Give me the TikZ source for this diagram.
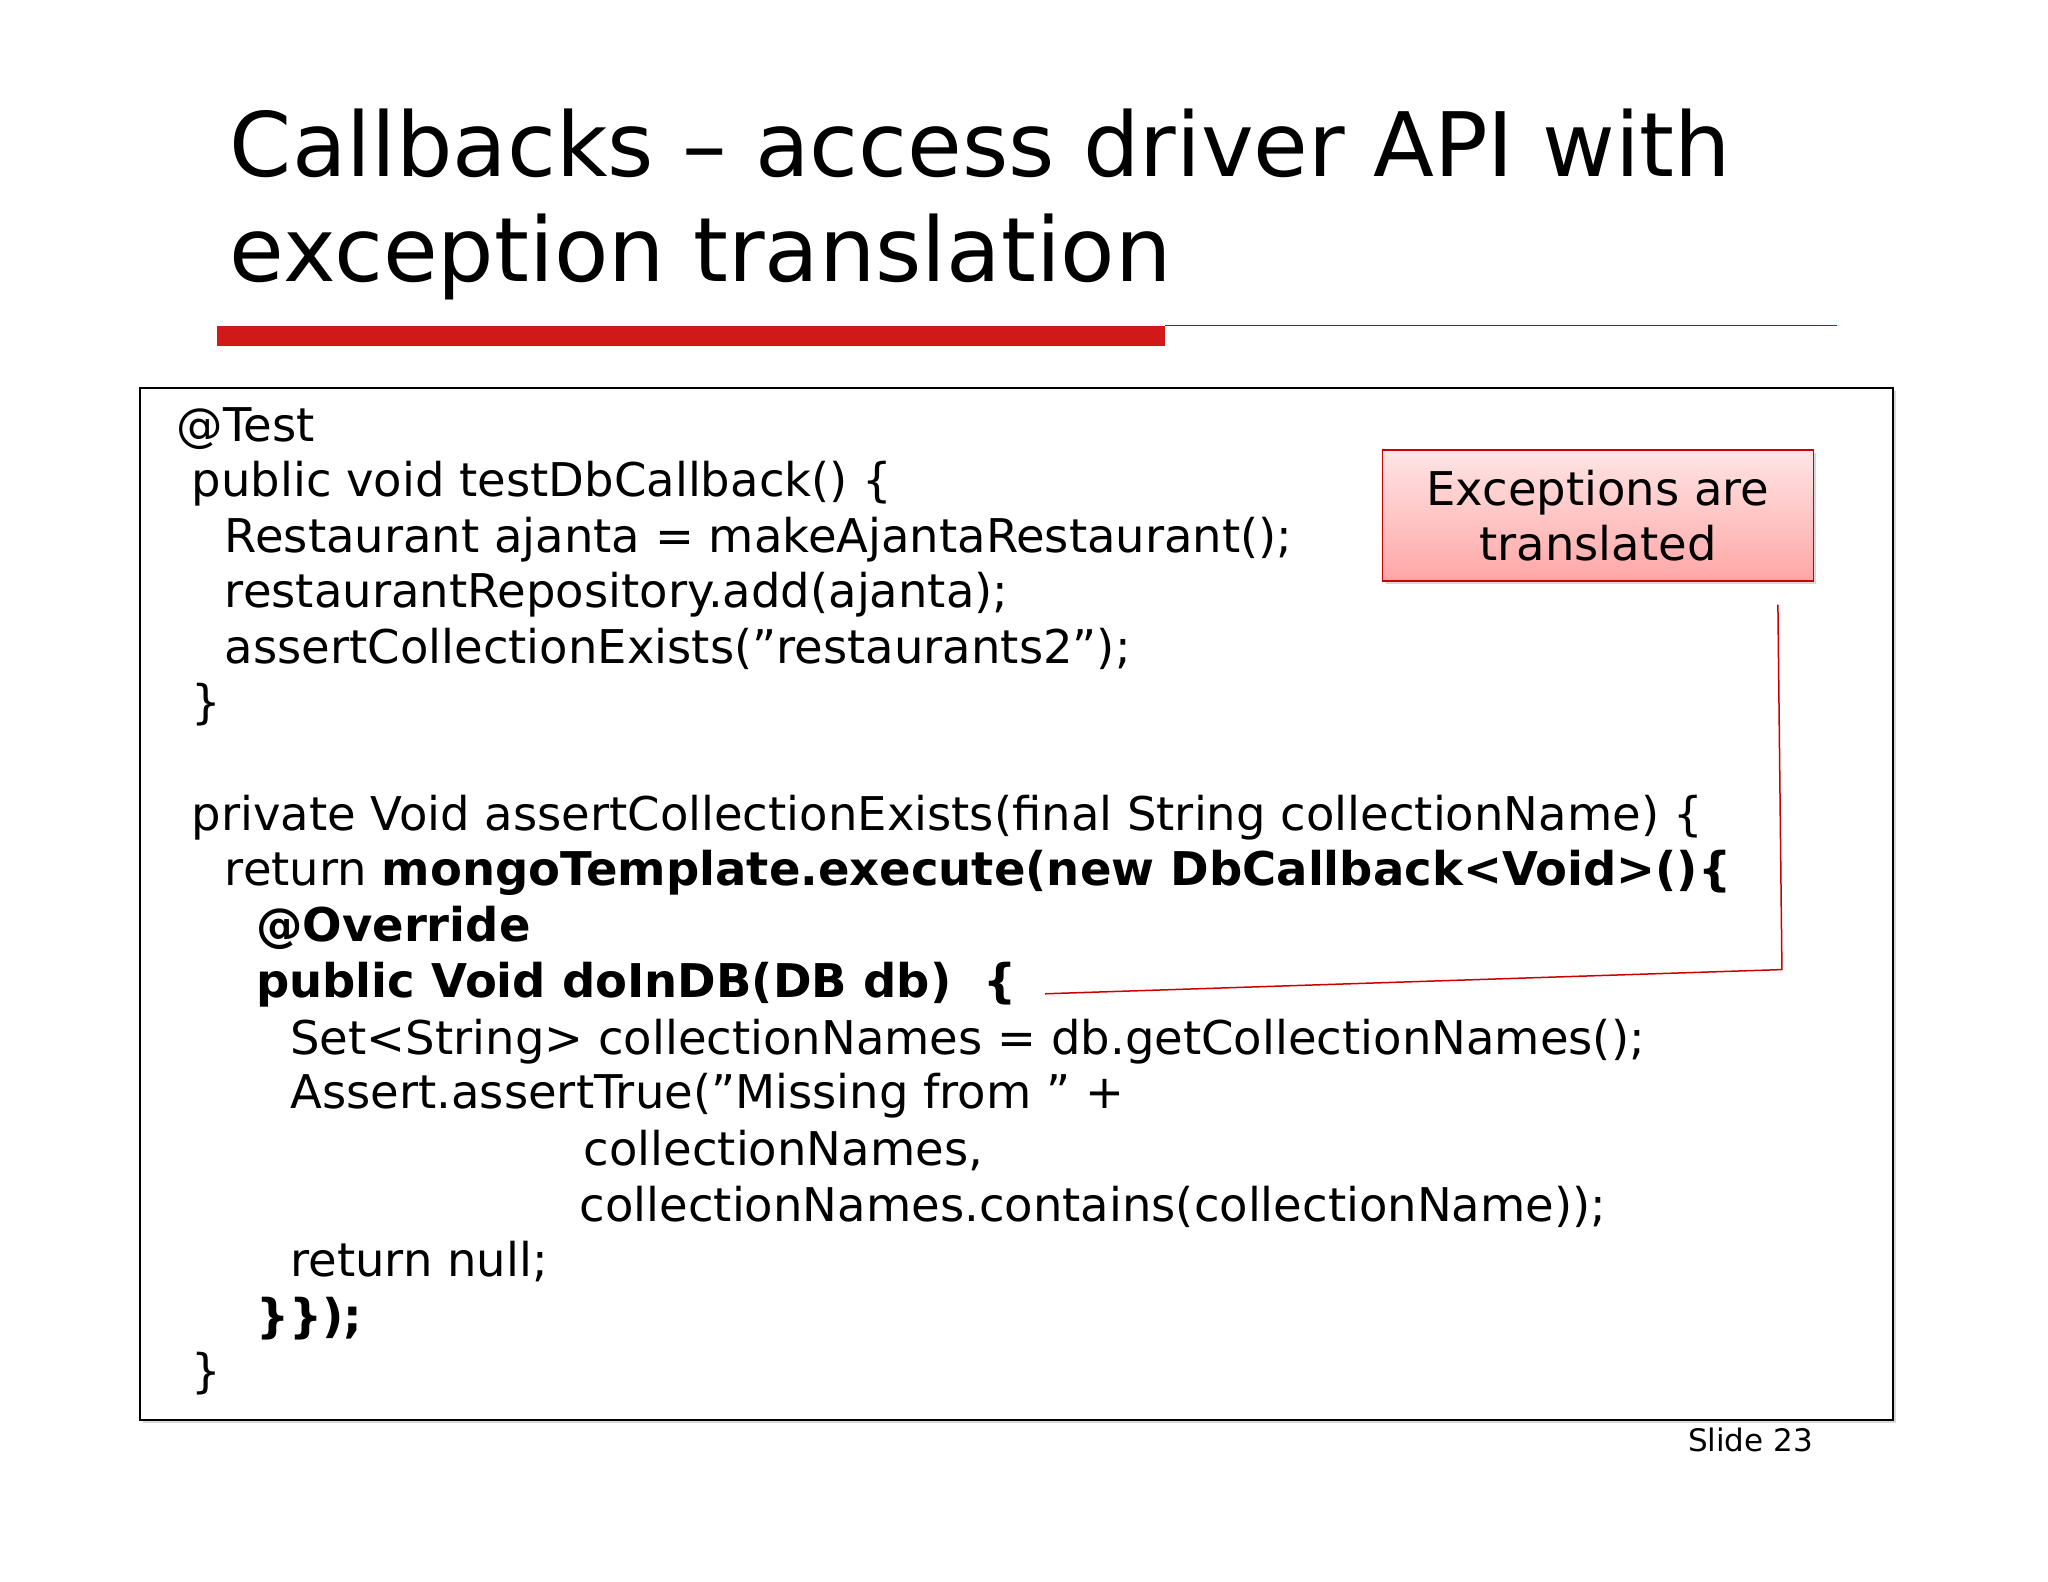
\documentclass[tikz,border=0pt]{standalone}
\usepackage{fontspec}
\setmainfont{DejaVu Sans}
\usetikzlibrary{shadows}
\newcommand{\qq}{\symbol{34}}
\begin{document}
\begin{tikzpicture}[x=1.008pt,y=-1.008pt,
  code/.style={anchor=base west,inner sep=0pt,font=\fontsize{46.5}{55}\selectfont},
  ttl/.style={anchor=base west,inner sep=0pt,font=\fontsize{89}{104}\selectfont}]
\useasboundingbox (0,0) rectangle (2032,1569);
\fill[white] (0,0) rectangle (2032,1569);
\node[ttl] (t1) at (228,175) {Callbacks – access driver API with};
\node[ttl] (t2) at (228,279) {exception translation};
\fill[red!80!black!90] (215,323) rectangle (1156,343);
\draw[red!80!black,line width=1.5pt] (1156,323) -- (1823,323);
\draw[line width=2.5pt,fill=white,drop shadow={shadow xshift=3pt,shadow yshift=-3pt,opacity=0.3}] (139,385) rectangle (1878,1409);
\node[code] (l1) at (175,438) {@Test};
\node[code] (l2) at (190,493) {public void testDbCallback() \{};
\node[code] (l3) at (223,548) {Restaurant ajanta = makeAjantaRestaurant();};
\node[code] (l4) at (223,603) {restaurantRepository.add(ajanta);};
\node[code] (l5) at (223,658) {assertCollectionExists(\qq restaurants2\qq);};
\node[code] (l6) at (190,713) {\}};
\node[code] (l7) at (190,824) {private Void assertCollectionExists(final String collectionName) \{};
\node[code] (l8) at (223,879) {return \textbf{mongoTemplate.execute(new DbCallback<Void>()\{}};
\node[code] (l9) at (254,934) {\textbf{@Override}};
\node[code] (l10) at (254,990) {\textbf{public Void doInDB(DB db)\ \ \{}};
\node[code] (l11) at (288,1046) {Set<String> collectionNames = db.getCollectionNames();};
\node[code] (l12) at (288,1100) {Assert.assertTrue(\qq Missing from \qq\ +};
\node[code] (l13) at (579,1156) {collectionNames,};
\node[code] (l14) at (575,1212) {collectionNames.contains(collectionName));};
\node[code] (l15) at (288,1267) {return null;};
\node[code] (l16) at (254,1322) {\textbf{\}\});}};
\node[code] (l17) at (190,1377) {\}};
\node[draw=red!80!black,line width=1.5pt,top color=red!10,bottom color=red!35,
  drop shadow={shadow xshift=3pt,shadow yshift=-3pt,opacity=0.3},
  minimum width=431pt,minimum height=131pt,align=center,
  font=\fontsize{46.5}{55}\selectfont] (call) at (1585.5,511.5) {Exceptions are\\ translated};
\coordinate (c1) at (1764,600);
\coordinate (c2) at (1768,962);
\coordinate (c3) at (1037,986);
\draw[red!80!black,line width=1.5pt] (c1) -- (c2) -- (c3);
\node[anchor=base east,inner sep=0pt,font=\fontsize{31}{36}\selectfont] (sl) at (1799,1440) {Slide 23};
\end{tikzpicture}
\end{document}
